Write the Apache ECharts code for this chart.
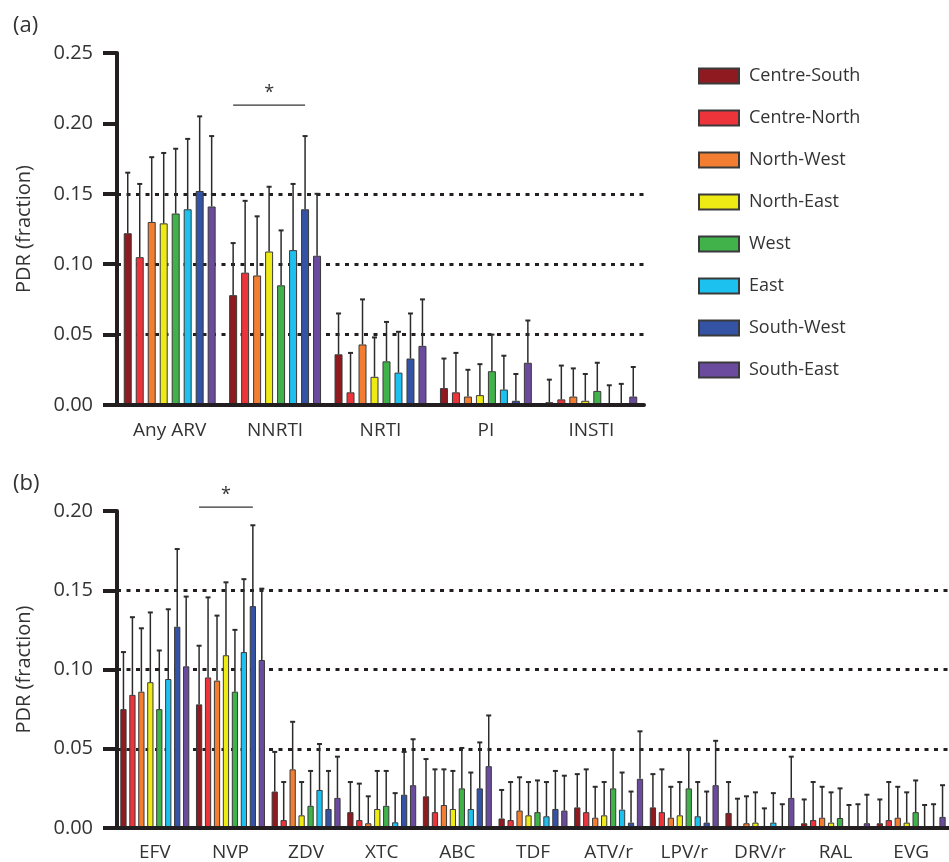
<!doctype html>
<html>
  <head>
    <meta charset="utf-8">
    <title>PDR by region</title>
    <script src="https://cdn.jsdelivr.net/npm/echarts@6/dist/echarts.min.js"></script>
    <style>
      html, body { margin: 0; padding: 0; background: #fff; }
      #main { width: 949px; height: 862px; }
    </style>
  </head>
  <body>
    <div id="main"></div>
  </body>
  <script>
   // regions, in legend order
   var regions = ['Centre-South', 'Centre-North', 'North-West', 'North-East', 'West', 'East', 'South-West', 'South-East'];
   var regionColors = ['#8f1a1f', '#ee343b', '#f37e32', '#eeea14', '#41b14a', '#1cc1ef', '#3553a4', '#6b4b9e'];

   // panel (a): drug classes
   var classCats = ['Any ARV', 'NNRTI', 'NRTI', 'PI', 'INSTI'];
   // one row per region, one column per class
   var classPdr = [
     [0.122, 0.078, 0.036, 0.012, 0.002],
     [0.105, 0.094, 0.009, 0.009, 0.004],
     [0.130, 0.092, 0.043, 0.006, 0.006],
     [0.129, 0.109, 0.020, 0.007, 0.003],
     [0.136, 0.085, 0.031, 0.024, 0.010],
     [0.139, 0.110, 0.023, 0.011, 0],
     [0.152, 0.139, 0.033, 0.003, 0],
     [0.141, 0.106, 0.042, 0.030, 0.006]
   ];
   // upper end of the error bars
   var classUpper = [
     [0.165, 0.115, 0.065, 0.033, 0.018],
     [0.157, 0.145, 0.037, 0.037, 0.028],
     [0.176, 0.134, 0.075, 0.025, 0.026],
     [0.179, 0.155, 0.048, 0.029, 0.022],
     [0.182, 0.124, 0.059, 0.050, 0.030],
     [0.189, 0.157, 0.052, 0.035, 0.014],
     [0.205, 0.191, 0.065, 0.022, 0.015],
     [0.191, 0.150, 0.075, 0.060, 0.027]
   ];

   // panel (b): single drugs
   var drugCats = ['EFV', 'NVP', 'ZDV', 'XTC', 'ABC', 'TDF', 'ATV/r', 'LPV/r', 'DRV/r', 'RAL', 'EVG'];
   var drugPdr = [
     [0.075, 0.078, 0.023, 0.010, 0.020, 0.006, 0.013, 0.013, 0.0095, 0.003, 0.003],
     [0.084, 0.095, 0.005, 0.005, 0.010, 0.005, 0.010, 0.010, 0, 0.005, 0.005],
     [0.086, 0.093, 0.037, 0.003, 0.0145, 0.011, 0.0065, 0.0065, 0.003, 0.0065, 0.0065],
     [0.092, 0.109, 0.008, 0.012, 0.012, 0.008, 0.008, 0.008, 0.0034, 0.0034, 0.0034],
     [0.075, 0.086, 0.014, 0.014, 0.025, 0.010, 0.025, 0.025, 0, 0.0063, 0.010],
     [0.094, 0.111, 0.024, 0.0036, 0.012, 0.0074, 0.0116, 0.0074, 0.0034, 0, 0],
     [0.127, 0.140, 0.012, 0.021, 0.025, 0.012, 0.0034, 0.0034, 0, 0, 0],
     [0.102, 0.106, 0.019, 0.027, 0.039, 0.011, 0.031, 0.027, 0.019, 0.003, 0.007]
   ];
   var drugUpper = [
     [0.111, 0.115, 0.048, 0.029, 0.0435, 0.024, 0.034, 0.034, 0.029, 0.018, 0.018],
     [0.133, 0.1455, 0.029, 0.028, 0.037, 0.029, 0.037, 0.037, 0.0185, 0.029, 0.029],
     [0.126, 0.134, 0.067, 0.020, 0.037, 0.032, 0.026, 0.026, 0.020, 0.026, 0.026],
     [0.136, 0.155, 0.029, 0.036, 0.036, 0.029, 0.029, 0.029, 0.0225, 0.0225, 0.0225],
     [0.112, 0.125, 0.036, 0.036, 0.0505, 0.030, 0.0496, 0.0496, 0.0124, 0.025, 0.030],
     [0.138, 0.157, 0.053, 0.022, 0.035, 0.029, 0.035, 0.029, 0.022, 0.0145, 0.0145],
     [0.176, 0.191, 0.036, 0.048, 0.054, 0.036, 0.023, 0.023, 0.015, 0.015, 0.015],
     [0.146, 0.151, 0.045, 0.056, 0.071, 0.033, 0.061, 0.055, 0.045, 0.021, 0.027]
   ];

   // significance brackets: [category, from region, to region, height]
   var sigA = [[1, 0, 6, 0.213]];
   var sigB = [[1, 0, 6, 0.2025]];

   var FONT = 'Open Sans';
   var TXT = '#333';
   var AXIS = '#231f20';
   var gapA = { cat: 0.128, bar: 0.5 };
   var gapB = { cat: 0.088, bar: 0.43 };

   // x centre of a region's bar inside a category band (same rule as echarts bar layout)
   function barX(api, cat, reg, gap) {
     var band = api.size([1, 0])[0];
     var groupW = band * (1 - gap.cat);
     var w = groupW / (8 + 7 * gap.bar);
     return api.coord([cat, 0])[0] - groupW / 2 + reg * w * (1 + gap.bar) + w / 2;
   }

   function errRender(gap) {
     return function (params, api) {
       var cat = api.value(0), reg = api.value(1);
       var x = barX(api, cat, reg, gap);
       var yTop = api.coord([cat, api.value(2)])[1];
       var yBase = api.coord([cat, api.value(3)])[1];
       return {
         type: 'group',
         children: [
           { type: 'line', shape: { x1: x, y1: yBase, x2: x, y2: yTop }, style: { stroke: '#2b2b2b', lineWidth: 1.5 } },
           { type: 'line', shape: { x1: x - 2.5, y1: yTop, x2: x + 2.5, y2: yTop }, style: { stroke: '#2b2b2b', lineWidth: 2 } }
         ]
       };
     };
   }

   function sigRender(gap) {
     return function (params, api) {
       var cat = api.value(0);
       var x1 = barX(api, cat, api.value(1), gap);
       var x2 = barX(api, cat, api.value(2), gap);
       var y = api.coord([cat, api.value(3)])[1];
       return {
         type: 'group',
         children: [
           { type: 'line', shape: { x1: x1, y1: y, x2: x2, y2: y }, style: { stroke: '#333', lineWidth: 1.3 } },
           { type: 'text', x: (x1 + x2) / 2, y: y - 3, style: { text: '*', fill: '#333', font: '18px "Open Sans"', align: 'center', verticalAlign: 'bottom' } }
         ]
       };
     };
   }

   function errData(pdr, upper) {
     var out = [];
     for (var i = 0; i < pdr.length; i++) {
       for (var j = 0; j < pdr[i].length; j++) {
         out.push([j, i, upper[i][j], pdr[i][j]]);
       }
     }
     return out;
   }

   function yAxisFor(gridIndex, max, lineColors) {
     return {
       type: 'value', gridIndex: gridIndex, min: 0, max: max, interval: 0.05,
       name: 'PDR (fraction)', nameLocation: 'middle', nameGap: 83,
       nameTextStyle: { fontFamily: FONT, fontSize: 20, color: TXT },
       axisLine: { show: true, lineStyle: { color: AXIS, width: 4 } },
       axisTick: { show: true, length: 14, lineStyle: { color: AXIS, width: 4 } },
       axisLabel: { fontFamily: FONT, fontSize: 20, color: TXT, margin: 24, formatter: function (v) { return v.toFixed(2); } },
       splitLine: { show: true, lineStyle: { color: lineColors, width: 3, type: [4, 5.5] } }
     };
   }

   function xAxisFor(gridIndex, cats, margin) {
     return {
       type: 'category', gridIndex: gridIndex, data: cats, z: 5,
       axisLine: { show: true, lineStyle: { color: AXIS, width: 4 } },
       axisTick: { show: false },
       axisLabel: { fontFamily: FONT, fontSize: 19, color: TXT, margin: margin, interval: 0 }
     };
   }

   var none = 'rgba(0,0,0,0)';
   var series = [];
   regions.forEach(function (r, i) {
     series.push({
       name: r, type: 'bar', xAxisIndex: 0, yAxisIndex: 0, data: classPdr[i],
       barGap: (gapA.bar * 100) + '%', barCategoryGap: (gapA.cat * 100) + '%',
       itemStyle: { color: regionColors[i], borderColor: '#3a3a3a', borderWidth: 1 }
     });
   });
   regions.forEach(function (r, i) {
     series.push({
       name: r, type: 'bar', xAxisIndex: 1, yAxisIndex: 1, data: drugPdr[i],
       barGap: (gapB.bar * 100) + '%', barCategoryGap: (gapB.cat * 100) + '%',
       itemStyle: { color: regionColors[i], borderColor: '#3a3a3a', borderWidth: 1 }
     });
   });
   series.push({
     type: 'custom', xAxisIndex: 0, yAxisIndex: 0, z: 3, clip: false,
     renderItem: errRender(gapA), data: errData(classPdr, classUpper), encode: { x: 0, y: 2 }
   });
   series.push({
     type: 'custom', xAxisIndex: 1, yAxisIndex: 1, z: 3, clip: false,
     renderItem: errRender(gapB), data: errData(drugPdr, drugUpper), encode: { x: 0, y: 2 }
   });
   series.push({
     type: 'custom', xAxisIndex: 0, yAxisIndex: 0, z: 3, clip: false,
     renderItem: sigRender(gapA), data: sigA, encode: { x: 0, y: 3 }
   });
   series.push({
     type: 'custom', xAxisIndex: 1, yAxisIndex: 1, z: 3, clip: false,
     renderItem: sigRender(gapB), data: sigB, encode: { x: 0, y: 3 }
   });

   var option = {
     animation: false,
     textStyle: { fontFamily: FONT },
     title: [
       { text: '(a)', left: 8, top: 10, textStyle: { fontFamily: FONT, fontSize: 22, fontWeight: 'normal', color: TXT } },
       { text: '(b)', left: 8, top: 468, textStyle: { fontFamily: FONT, fontSize: 22, fontWeight: 'normal', color: TXT } }
     ],
     legend: {
       data: regions, orient: 'vertical', left: 698, top: 67, padding: 0,
       icon: 'rect', itemWidth: 40, itemHeight: 15, itemGap: 24,
       textStyle: { fontFamily: FONT, fontSize: 18, color: TXT, padding: [0, 0, 0, 5] }
     },
     grid: [
       { left: 117, top: 53, width: 527, height: 352 },
       { left: 117, top: 511, width: 836, height: 317 }
     ],
     xAxis: [xAxisFor(0, classCats, 16), xAxisFor(1, drugCats, 15)],
     yAxis: [
       yAxisFor(0, 0.25, [none, AXIS, AXIS, AXIS, none, none]),
       yAxisFor(1, 0.20, [none, AXIS, AXIS, AXIS, none])
     ],
     series: series
   };

   var chart = echarts.init(document.getElementById('main'));
   chart.setOption(option);
  </script>
</html>
